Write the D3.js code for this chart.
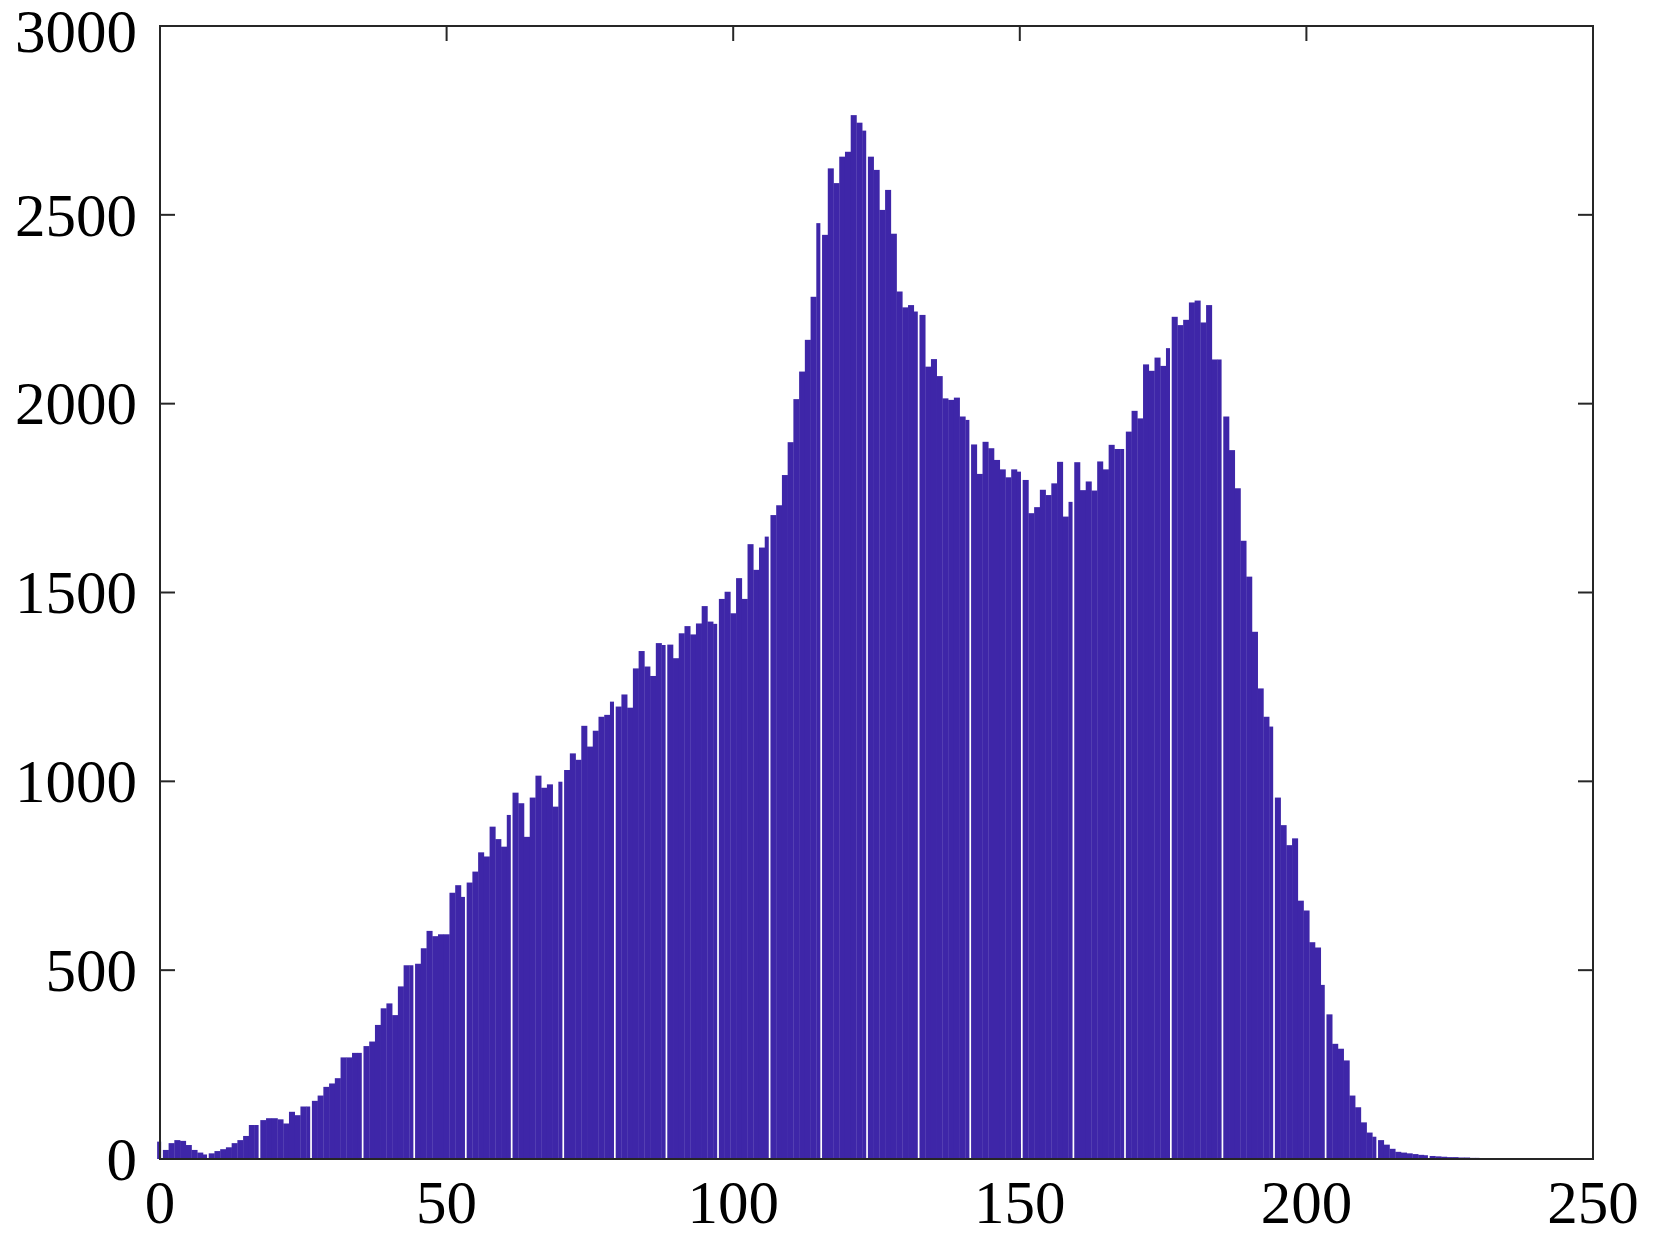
<!DOCTYPE html>
<html>
<head>
<meta charset="utf-8">
<script src="https://d3js.org/d3.v7.min.js"></script>
<style>
  body { margin: 0; background: white; }
</style>
</head>
<body>
<div id="hist"></div>
<script>
// histogram counts for grey levels 0..255
var counts = [
    46, 24, 42, 50, 48, 37, 24, 17, 12, 15,
    21, 26, 31, 42, 50, 61, 90, 90, 103, 108,
    108, 105, 94, 125, 116, 139, 139, 154, 168, 191,
    200, 214, 269, 269, 281, 281, 299, 311, 355, 399,
    412, 381, 457, 513, 513, 517, 558, 604, 590, 595,
    595, 705, 725, 694, 732, 761, 812, 801, 880, 847,
    827, 911, 970, 942, 853, 957, 1015, 983, 992, 933,
    999, 1030, 1074, 1057, 1147, 1092, 1134, 1171, 1176, 1211,
    1198, 1230, 1195, 1299, 1345, 1304, 1279, 1366, 1361, 1362,
    1326, 1392, 1411, 1389, 1418, 1464, 1423, 1417, 1483, 1502,
    1445, 1538, 1483, 1628, 1560, 1619, 1648, 1705, 1731, 1811,
    1898, 2012, 2085, 2169, 2283, 2478, 2447, 2623, 2584, 2654,
    2667, 2764, 2744, 2723, 2654, 2619, 2513, 2566, 2450, 2297,
    2255, 2261, 2244, 2235, 2098, 2118, 2073, 2014, 2010, 2016,
    1966, 1957, 1892, 1814, 1899, 1882, 1851, 1826, 1805, 1826,
    1820, 1798, 1710, 1726, 1772, 1758, 1789, 1846, 1701, 1740,
    1845, 1771, 1794, 1770, 1847, 1826, 1891, 1880, 1880, 1926,
    1981, 1961, 2104, 2087, 2122, 2100, 2147, 2230, 2208, 2222,
    2268, 2273, 2215, 2261, 2117, 2117, 1966, 1877, 1776, 1637,
    1542, 1396, 1246, 1171, 1145, 957, 884, 831, 849, 684,
    658, 574, 560, 461, 383, 305, 292, 261, 168, 137,
    97, 70, 59, 50, 38, 27, 19, 17, 15, 13,
    11, 10, 8, 7, 6, 5, 5, 4, 4, 3,
    3, 0, 0, 0, 0, 0, 0, 0, 0, 0,
    0, 0, 0, 0, 0, 0
];
var xTicks = [0, 50, 100, 150, 200, 250];
var yTicks = [0, 500, 1000, 1500, 2000, 2500, 3000];

var w = 1655, h = 1237;
var plotLeft = 160, plotRight = 1593, plotTop = 26, plotBottom = 1159;
var barColor = "#3e26a8";
var axisColor = "#262626";
var tickLen = 15;
var fontSize = 61;
// the original raster leaves a thin white seam every ~8.85 bars
var seamPeriod = 8.846, seamPhase = 17.73, seamWidth = 1.7;

var svg = d3.select("#hist").append("svg").attr("width", w).attr("height", h);

var x = d3.scaleLinear().domain([0, 250]).range([plotLeft, plotRight]);
var y = d3.scaleLinear().domain([0, 3000]).range([plotBottom, plotTop]);

function hasSeam(i) {
    return Math.floor((i + 1 - seamPhase) / seamPeriod) > Math.floor((i - seamPhase) / seamPeriod);
}

// inner ticks on all four sides (drawn under the bars, like the original)
var ticksG = svg.append("g").attr("stroke", axisColor).attr("stroke-width", 2);
xTicks.forEach(function(t) {
    ticksG.append("line").attr("x1", x(t)).attr("x2", x(t)).attr("y1", plotBottom).attr("y2", plotBottom - tickLen);
    ticksG.append("line").attr("x1", x(t)).attr("x2", x(t)).attr("y1", plotTop).attr("y2", plotTop + tickLen);
});
yTicks.forEach(function(t) {
    ticksG.append("line").attr("x1", plotLeft).attr("x2", plotLeft + tickLen).attr("y1", y(t)).attr("y2", y(t));
    ticksG.append("line").attr("x1", plotRight).attr("x2", plotRight - tickLen).attr("y1", y(t)).attr("y2", y(t));
});

// bars, one per grey level, centred on the level
svg.append("g").selectAll("rect").data(counts).enter().append("rect")
    .attr("x", function(d, i) { return x(i - 0.5); })
    .attr("width", function(d, i) {
        var bw = x(i + 0.5) - x(i - 0.5);
        return hasSeam(i) ? bw - seamWidth : bw + 0.3;
    })
    .attr("y", function(d) { return y(d); })
    .attr("height", function(d) { return plotBottom - y(d); })
    .attr("fill", barColor);

// box
svg.append("rect")
    .attr("x", plotLeft).attr("y", plotTop)
    .attr("width", plotRight - plotLeft).attr("height", plotBottom - plotTop)
    .attr("fill", "none")
    .attr("stroke", axisColor)
    .attr("stroke-width", 2);

// tick labels
svg.append("g").selectAll("text").data(xTicks).enter().append("text")
    .attr("x", function(d) { return x(d); })
    .attr("y", 1223)
    .attr("text-anchor", "middle")
    .attr("font-family", "Liberation Serif, Times New Roman, serif")
    .attr("font-size", fontSize)
    .attr("fill", "black")
    .text(function(d) { return d; });

svg.append("g").selectAll("text").data(yTicks).enter().append("text")
    .attr("x", 137)
    .attr("y", function(d) { return y(d) + (d == 3000 ? 5 : 0); })
    .attr("dy", "0.34em")
    .attr("text-anchor", "end")
    .attr("font-family", "Liberation Serif, Times New Roman, serif")
    .attr("font-size", fontSize)
    .attr("fill", "black")
    .text(function(d) { return d; });
</script>
</body>
</html>
